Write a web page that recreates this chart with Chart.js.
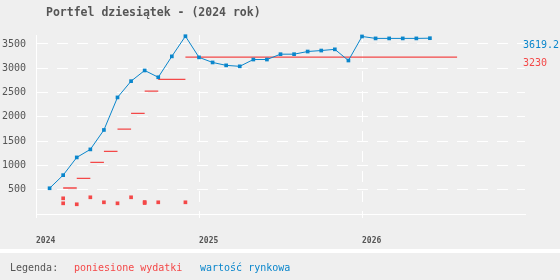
<!DOCTYPE html>
<html>
<head>
<meta charset="utf-8">
<script src="https://cdn.jsdelivr.net/npm/chart.js@4/dist/chart.umd.min.js"></script>
<style>
  html, body { margin: 0; padding: 0; background: #efefef; }
  #wrap { width: 560px; height: 280px; }
</style>
</head>
<body>
<div id="wrap"><canvas id="chart" width="560" height="280"></canvas></div>
<script>
// months counted from Jan 2024 (0 = 2024-01)
const yearTicks = [0, 12, 24];
const yearLabels = ['2024', '2025', '2026'];
const valueTicks = [0, 500, 1000, 1500, 2000, 2500, 3000, 3500];

// wartość rynkowa, monthly from Feb 2024
const marketMonths = [1, 2, 3, 4, 5, 6, 7, 8, 9, 10, 11, 12, 13, 14, 15, 16, 17, 18, 19, 20, 21, 22, 23, 24, 25, 26, 27, 28, 29];
const marketValues = [530, 800, 1165, 1330, 1730, 2400, 2735, 2955, 2815, 3245, 3660, 3225, 3120, 3060, 3040, 3180, 3180,
  3290, 3290, 3345, 3365, 3390, 3160, 3655, 3615, 3615, 3615, 3615, 3619.2];

// poniesione wydatki, cumulative levels
const spentFrom = [2, 3, 4, 5, 6, 7, 8, 9, 11];
const spentTo = [3, 4, 5, 6, 7, 8, 9, 11, 31];
const spentTotal = [535, 734, 1064, 1290, 1749, 2072, 2531, 2771, 3230];

// single purchases
const buyMonths = [2, 2, 3, 4, 5, 6, 7, 8, 8, 9, 11];
const buyValues = [323, 220, 200, 344, 241, 220, 344, 247, 225, 241, 241];

const BLUE = '#0a86cc';
const RED = '#f44848';
const GREY = '#555';
const FONT = '"DejaVu Sans Mono", monospace';

const segments = [];
spentFrom.forEach((m, i) => {
  segments.push({ x: m, y: spentTotal[i] });
  segments.push({ x: spentTo[i], y: spentTotal[i] });
  segments.push({ x: spentTo[i], y: null });
});

const decor = {
  id: 'decor',
  beforeDraw(chart) {
    const c = chart.ctx;
    c.save();
    c.fillStyle = '#efefef';
    c.fillRect(0, 0, chart.width, chart.height);
    c.fillStyle = '#ffffff';
    c.fillRect(0, 249, chart.width, 4);
    c.restore();
  },
  afterDraw(chart) {
    const c = chart.ctx;
    const y = chart.scales.y;
    c.save();
    c.textBaseline = 'middle';
    c.font = 'bold 11.5px ' + FONT;
    c.fillStyle = GREY;
    c.fillText('Portfel dziesiątek - (2024 rok)', 46, 13);

    c.font = '10px ' + FONT;
    const lastMarket = marketValues[marketValues.length - 1];
    const lastSpent = spentTotal[spentTotal.length - 1];
    c.fillStyle = BLUE;
    c.fillText(String(lastMarket), 523, y.getPixelForValue(lastMarket) + 7);
    c.fillStyle = RED;
    c.fillText(String(lastSpent), 523, y.getPixelForValue(lastSpent) + 6.5);

    c.fillStyle = GREY;
    c.fillText('Legenda:', 10, 268);
    c.fillStyle = RED;
    c.fillText('poniesione wydatki', 74, 268);
    c.fillStyle = BLUE;
    c.fillText('wartość rynkowa', 200, 268);
    c.restore();
  }
};

new Chart(document.getElementById('chart'), {
  type: 'line',
  data: {
    datasets: [
      {
        label: 'wartość rynkowa',
        data: marketMonths.map((m, i) => ({ x: m, y: marketValues[i] })),
        borderColor: BLUE,
        backgroundColor: BLUE,
        borderWidth: 1,
        pointStyle: 'rect',
        pointRadius: 2.6,
        pointBorderWidth: 0,
        tension: 0,
        clip: false,
      },
      {
        label: 'poniesione wydatki',
        data: segments,
        borderColor: RED,
        borderWidth: 1.3,
        pointRadius: 0,
        spanGaps: false,
      },
      {
        label: 'zakupy',
        data: buyMonths.map((m, i) => ({ x: m, y: buyValues[i] })),
        showLine: false,
        backgroundColor: RED,
        borderColor: RED,
        pointStyle: 'rect',
        pointRadius: 2.6,
        pointBorderWidth: 0,
      },
    ],
  },
  options: {
    responsive: false,
    animation: false,
    layout: { padding: { top: 35, right: 35, bottom: 30, left: 0 } },
    plugins: {
      legend: { display: false },
      title: { display: false },
      tooltip: { enabled: false },
    },
    scales: {
      x: {
        type: 'linear',
        min: 0,
        max: 36,
        afterBuildTicks: (s) => { s.ticks = yearTicks.map((v) => ({ value: v })); },
        afterFit: (s) => { s.height = 36; },
        ticks: {
          align: 'start',
          padding: 18,
          color: GREY,
          font: { family: FONT, size: 8, weight: 'bold' },
          callback: (v) => yearLabels[yearTicks.indexOf(v)] ?? '',
        },
        grid: { color: '#ffffff', lineWidth: 1, tickLength: 4, tickBorderDash: [11, 9] },
        border: { color: '#ffffff', width: 1, dash: [11, 9], dashOffset: 4 },
      },
      y: {
        min: 0,
        max: 3685,
        afterBuildTicks: (s) => { s.ticks = valueTicks.map((v) => ({ value: v })); },
        afterFit: (s) => { s.width = 36; },
        ticks: {
          padding: 10,
          color: GREY,
          font: { family: FONT, size: 10 },
          callback: (v) => (v === 0 ? '' : String(v)),
        },
        grid: { color: '#ffffff', lineWidth: 1, drawTicks: false },
        border: { color: '#ffffff', width: 1, dash: [11, 9] },
      },
    },
  },
  plugins: [decor],
});
</script>
</body>
</html>
